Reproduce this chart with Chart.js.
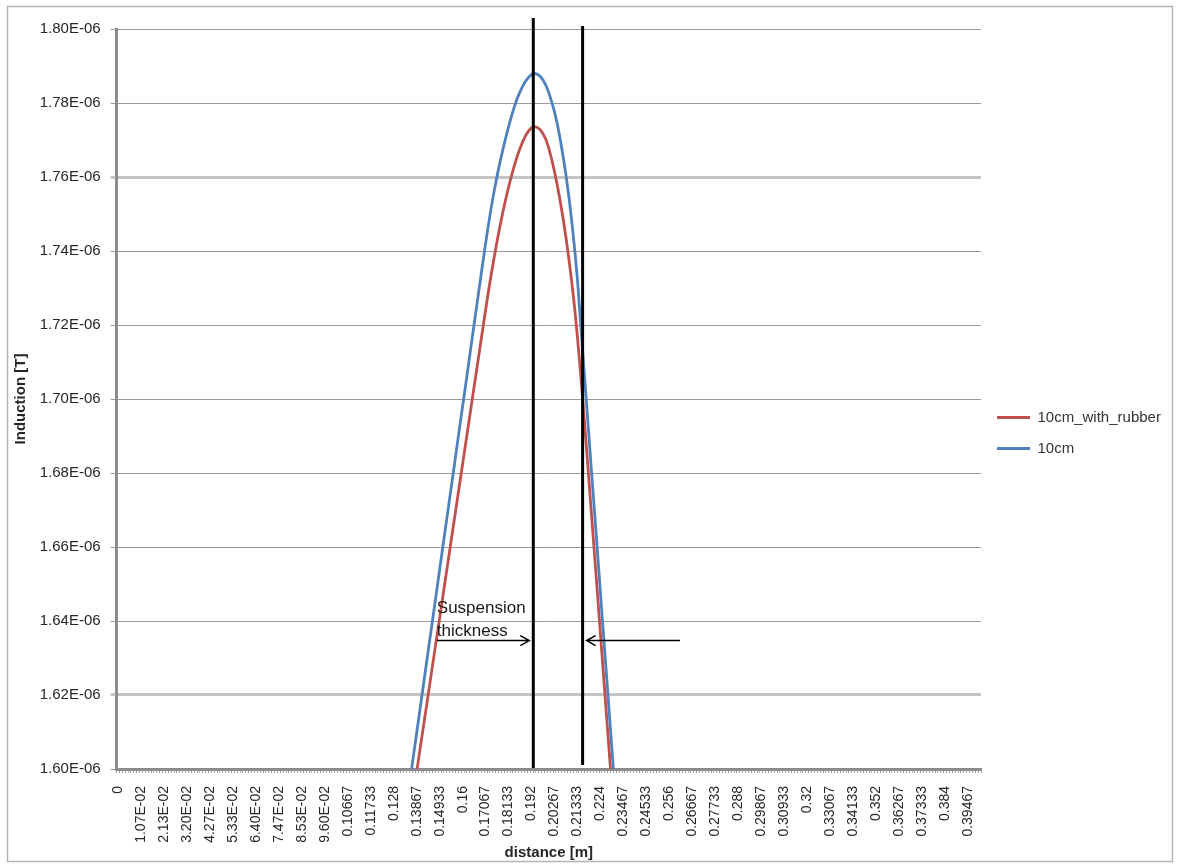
<!DOCTYPE html>
<html>
<head>
<meta charset="utf-8">
<title>Induction vs distance</title>
<script src="https://cdn.jsdelivr.net/npm/chart.js@4.4.1/dist/chart.umd.min.js"></script>
<style>
  html, body { margin: 0; padding: 0; background: #fff; }
  #wrap { width: 1179px; height: 864px; }
</style>
</head>
<body>
<div id="wrap"><canvas id="inductionChart"></canvas></div>
<script>
// distance axis: 0 .. 0.4 m in 300 steps, every 8th category carries a label
const distanceStep = 0.4 / 300;
const pointCount = 301;
const labelEvery = 8;
const xTickLabels = [
    '0', '1.07E-02', '2.13E-02', '3.20E-02', '4.27E-02', '5.33E-02', '6.40E-02', '7.47E-02',
    '8.53E-02', '9.60E-02', '0.10667', '0.11733', '0.128', '0.13867', '0.14933', '0.16',
    '0.17067', '0.18133', '0.192', '0.20267', '0.21333', '0.224', '0.23467', '0.24533',
    '0.256', '0.26667', '0.27733', '0.288', '0.29867', '0.30933', '0.32', '0.33067',
    '0.34133', '0.352', '0.36267', '0.37333', '0.384', '0.39467'
];

// induction in units of 1E-06 T
const yTicks = [1.60, 1.62, 1.64, 1.66, 1.68, 1.70, 1.72, 1.74, 1.76, 1.78, 1.80];

// measured values start at category 100 (0.1333 m); everything outside lies below 1.60E-06
const firstIndex = 100;
const withRubber = [
    1.5785, 1.5837, 1.5889, 1.5941, 1.5993, 1.6045, 1.6097, 1.6149, 1.6201, 1.6253,
    1.6305, 1.6357, 1.6409, 1.6461, 1.6513, 1.6565, 1.6617, 1.6669, 1.6721, 1.6773,
    1.6825, 1.6877, 1.6929, 1.6981, 1.7033, 1.7085, 1.7137, 1.7189, 1.7241, 1.7291,
    1.7339, 1.7384, 1.7427, 1.7467, 1.7505, 1.7540, 1.7573, 1.7603, 1.7631, 1.7656,
    1.7678, 1.7697, 1.7713, 1.7725, 1.7733, 1.7736, 1.7734, 1.7728, 1.7717, 1.7701,
    1.7678, 1.7648, 1.7614, 1.7576, 1.7534, 1.7487, 1.7435, 1.7378, 1.7316, 1.7246,
    1.7165, 1.7075, 1.6980, 1.6880, 1.6778, 1.6675, 1.6571, 1.6467, 1.6363, 1.6259,
    1.6155, 1.6051, 1.5947, 1.5843, 1.5739
];
const withoutRubber = [
    1.5877, 1.5932, 1.5988, 1.6043, 1.6098, 1.6153, 1.6208, 1.6264, 1.6319, 1.6374,
    1.6429, 1.6484, 1.6540, 1.6595, 1.6650, 1.6705, 1.6760, 1.6815, 1.6871, 1.6926,
    1.6981, 1.7036, 1.7091, 1.7147, 1.7202, 1.7257, 1.7312, 1.7367, 1.7421, 1.7472,
    1.7520, 1.7563, 1.7603, 1.7640, 1.7674, 1.7706, 1.7736, 1.7764, 1.7790, 1.7812,
    1.7831, 1.7847, 1.7860, 1.7870, 1.7877, 1.7880, 1.7878, 1.7872, 1.7862, 1.7848,
    1.7828, 1.7803, 1.7776, 1.7742, 1.7701, 1.7655, 1.7604, 1.7546, 1.7480, 1.7406,
    1.7320, 1.7213, 1.7106, 1.7003, 1.6897, 1.6790, 1.6687, 1.6581, 1.6474, 1.6367,
    1.6264, 1.6158, 1.6051, 1.5948, 1.5842
];

// suspension thickness markers (distance in m, induction in 1E-06 T)
const markerDistances = [0.1928, 0.2157];
const markerTops = [1.8030, 1.8008];
const markerBottoms = [1.6003, 1.6011];
const arrowLevel = 1.6347;
const arrowStarts = [0.148, 0.2609];

const categories = Array.from({ length: pointCount }, (_, i) => +(i * distanceStep).toFixed(5));

function placeSeries(values) {
    const out = new Array(pointCount).fill(null);
    values.forEach((v, i) => { out[firstIndex + i] = v; });
    return out;
}

const FONT = '"Liberation Sans", Arial, sans-serif';

const framePlugin = {
    id: 'frame',
    beforeDraw(chart) {
        const ctx = chart.ctx;
        ctx.save();
        ctx.fillStyle = '#fff';
        ctx.fillRect(0, 0, chart.width, chart.height);
        ctx.strokeStyle = '#b4b4b4';
        ctx.lineWidth = 1.5;
        ctx.strokeRect(7.5, 6.5, chart.width - 14, chart.height - 9);
        ctx.restore();
    }
};

function drawArrow(ctx, x1, x2, y) {
    const dir = x2 > x1 ? 1 : -1;
    ctx.beginPath();
    ctx.moveTo(x1, y);
    ctx.lineTo(x2, y);
    ctx.moveTo(x2 - dir * 9, y - 5);
    ctx.lineTo(x2, y);
    ctx.lineTo(x2 - dir * 9, y + 5);
    ctx.stroke();
}

const thicknessPlugin = {
    id: 'thickness',
    afterDatasetsDraw(chart) {
        const { ctx, scales: { x, y } } = chart;
        const px = d => x.getPixelForValue(d / distanceStep);
        ctx.save();
        ctx.strokeStyle = '#000';
        ctx.lineWidth = 3;
        markerDistances.forEach((d, i) => {
            ctx.beginPath();
            ctx.moveTo(px(d), y.getPixelForValue(markerTops[i]));
            ctx.lineTo(px(d), y.getPixelForValue(markerBottoms[i]));
            ctx.stroke();
        });

        const ay = y.getPixelForValue(arrowLevel);
        ctx.lineWidth = 1.5;
        drawArrow(ctx, px(arrowStarts[0]), px(markerDistances[0]) - 4, ay);
        drawArrow(ctx, px(arrowStarts[1]), px(markerDistances[1]) + 4, ay);

        ctx.fillStyle = '#1a1a1a';
        ctx.font = '17px ' + FONT;
        ctx.textBaseline = 'middle';
        ctx.textAlign = 'left';
        ctx.fillText('Suspension', px(arrowStarts[0]), ay - 32);
        ctx.fillText('thickness', px(arrowStarts[0]), ay - 9);
        ctx.restore();
    }
};

const ctx = document.getElementById('inductionChart');
new Chart(ctx, {
    type: 'line',
    data: {
        labels: categories,
        datasets: [{
            label: '10cm_with_rubber',
            data: placeSeries(withRubber),
            borderColor: '#c0504d',
            backgroundColor: '#c0504d',
            borderWidth: 2.8,
            pointRadius: 0,
            tension: 0,
            order: 1
        }, {
            label: '10cm',
            data: placeSeries(withoutRubber),
            borderColor: '#4f81bd',
            backgroundColor: '#4f81bd',
            borderWidth: 2.8,
            pointRadius: 0,
            tension: 0,
            order: 0
        }]
    },
    options: {
        responsive: true,
        maintainAspectRatio: false,
        animation: false,
        layout: { padding: { left: 8, right: 2, top: 6, bottom: 4 } },
        plugins: {
            tooltip: { enabled: false },
            legend: {
                position: 'right',
                align: 'center',
                labels: {
                    boxWidth: 33,
                    boxHeight: 3,
                    padding: 16,
                    color: '#333',
                    font: { family: FONT, size: 15 },
                    sort: (a, b) => a.datasetIndex - b.datasetIndex,
                    generateLabels(chart) {
                        const items = Chart.defaults.plugins.legend.labels.generateLabels(chart);
                        items.forEach(it => { it.lineWidth = 0; it.fillStyle = it.strokeStyle; });
                        return items;
                    }
                }
            }
        },
        scales: {
            x: {
                type: 'category',
                offset: true,
                afterFit(scale) {
                    scale.height = 864 - 4 - 769;
                    scale.paddingRight = 1179 - 981;
                },
                border: { display: true, color: '#8c8c8c', width: 3 },
                grid: {
                    drawOnChartArea: false,
                    drawTicks: true,
                    tickLength: 4,
                    offset: true,
                    color: '#a6a6a6'
                },
                ticks: {
                    autoSkip: false,
                    minRotation: 90,
                    maxRotation: 90,
                    padding: 13,
                    color: '#262626',
                    font: { family: FONT, size: 14 },
                    callback: (val, idx) => idx % labelEvery === 0 ? xTickLabels[idx / labelEvery] : ''
                },
                title: {
                    display: true,
                    text: 'distance [m]',
                    color: '#262626',
                    font: { family: FONT, size: 15, weight: 'bold' },
                    padding: { top: 0, bottom: -2 }
                }
            },
            y: {
                type: 'linear',
                min: 1.60,
                max: 1.80,
                afterBuildTicks(scale) { scale.ticks = yTicks.map(v => ({ value: v })); },
                afterFit(scale) {
                    scale.width = 116.6 - 8;
                    scale.paddingTop = 29;
                },
                border: { display: true, color: '#8c8c8c', width: 3 },
                grid: {
                    drawTicks: true,
                    tickLength: 6,
                    color: c => [176, 162].includes(Math.round(c.tick.value * 100)) ? '#c4c4c4' : '#9a9a9a',
                    lineWidth: c => [176, 162].includes(Math.round(c.tick.value * 100)) ? 3 : 1
                },
                ticks: {
                    padding: 10,
                    color: '#262626',
                    font: { family: FONT, size: 15 },
                    callback: v => v.toFixed(2) + 'E-06'
                },
                title: {
                    display: true,
                    text: 'Induction [T]',
                    color: '#262626',
                    font: { family: FONT, size: 15, weight: 'bold' },
                    padding: { top: 4, bottom: 0 }
                }
            }
        }
    },
    plugins: [framePlugin, thicknessPlugin]
});
</script>
</body>
</html>
